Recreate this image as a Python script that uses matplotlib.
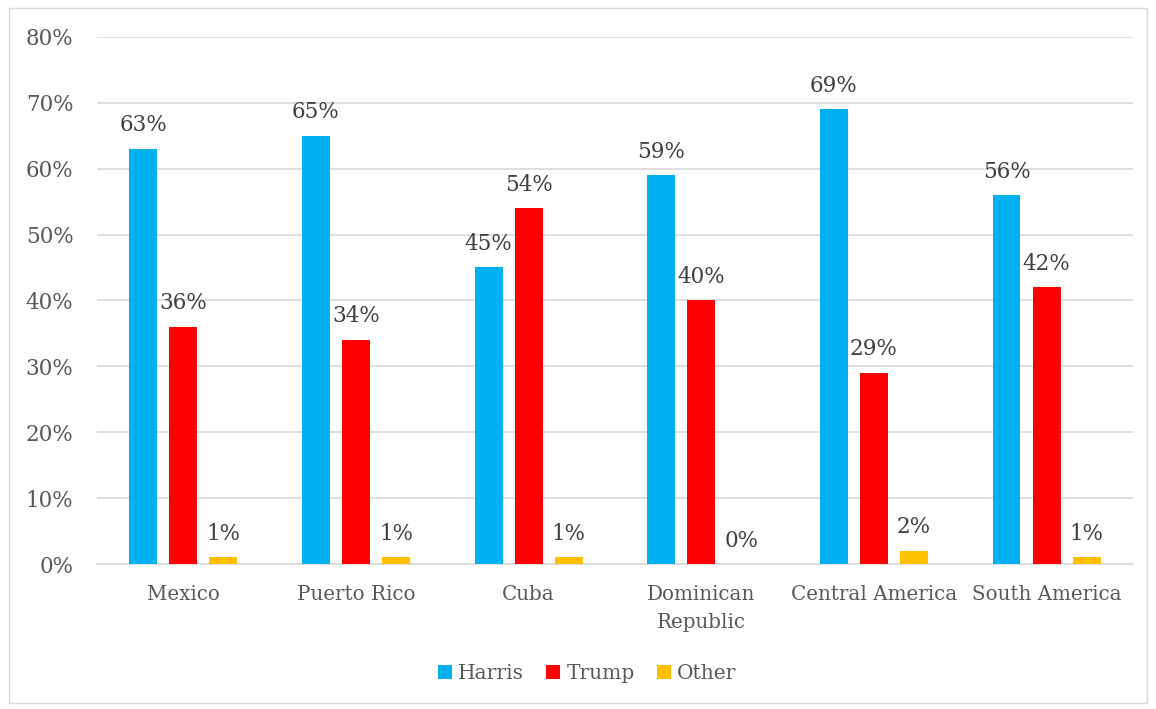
import numpy as np
import matplotlib.pyplot as plt
from matplotlib.ticker import PercentFormatter
from matplotlib.patches import Rectangle

categories = ["Mexico", "Puerto Rico", "Cuba", "Dominican\nRepublic", "Central America", "South America"]
harris = [63, 65, 45, 59, 69, 56]
trump = [36, 34, 54, 40, 29, 42]
other = [1, 1, 1, 0, 2, 1]

series = [("Harris", harris, "#00B0F0"), ("Trump", trump, "#FF0000"), ("Other", other, "#FFC000")]

plt.rcParams['font.family'] = ['DejaVu Serif']
txt = "#595959"

fig = plt.figure(figsize=(11.56, 7.09), dpi=100)
ax = fig.add_axes([0.084, 0.2045, 0.896, 0.7435])
fig.patches.append(Rectangle((0.008, 0.008), 0.984, 0.981, transform=fig.transFigure,
                             fill=False, edgecolor="#D9D9D9", linewidth=1))

x = np.arange(len(categories))
w = 0.162
step = 0.232
for i, (name, vals, col) in enumerate(series):
    pos = x + (i - 1) * step
    bars = ax.bar(pos, vals, width=w, color=col, label=name, zorder=3)
    for b, v in zip(bars, vals):
        ax.annotate(f"{v}%", (b.get_x() + b.get_width() / 2, v), xytext=(0, 9),
                    textcoords="offset points", ha="center", va="bottom",
                    fontsize=15.5, color="#404040")

ax.set_ylim(0, 80)
ax.set_xlim(-0.5, len(categories) - 0.5)
ax.set_yticks(range(0, 81, 10))
ax.yaxis.set_major_formatter(PercentFormatter(decimals=0))
ax.grid(axis="y", color="#D9D9D9", linewidth=1.2, zorder=0)
ax.set_xticks(x)
ax.set_xticklabels(categories, fontsize=14.3, color=txt, linespacing=1.6)
ax.tick_params(axis="y", labelsize=15.5, labelcolor=txt, length=0, pad=17)
ax.tick_params(axis="x", length=0, pad=15)
for s in ["top", "right", "left"]:
    ax.spines[s].set_visible(False)
ax.spines["bottom"].set_color("#D9D9D9")
ax.spines["bottom"].set_linewidth(1.2)

leg = fig.legend(loc="center", bbox_to_anchor=(0.508, 0.05), ncol=3, frameon=False,
                 fontsize=14.5, handlelength=0.7, handleheight=0.7, handletextpad=0.3,
                 columnspacing=1.1)
for t in leg.get_texts():
    t.set_color(txt)

fig.savefig("out.png", dpi=100)
